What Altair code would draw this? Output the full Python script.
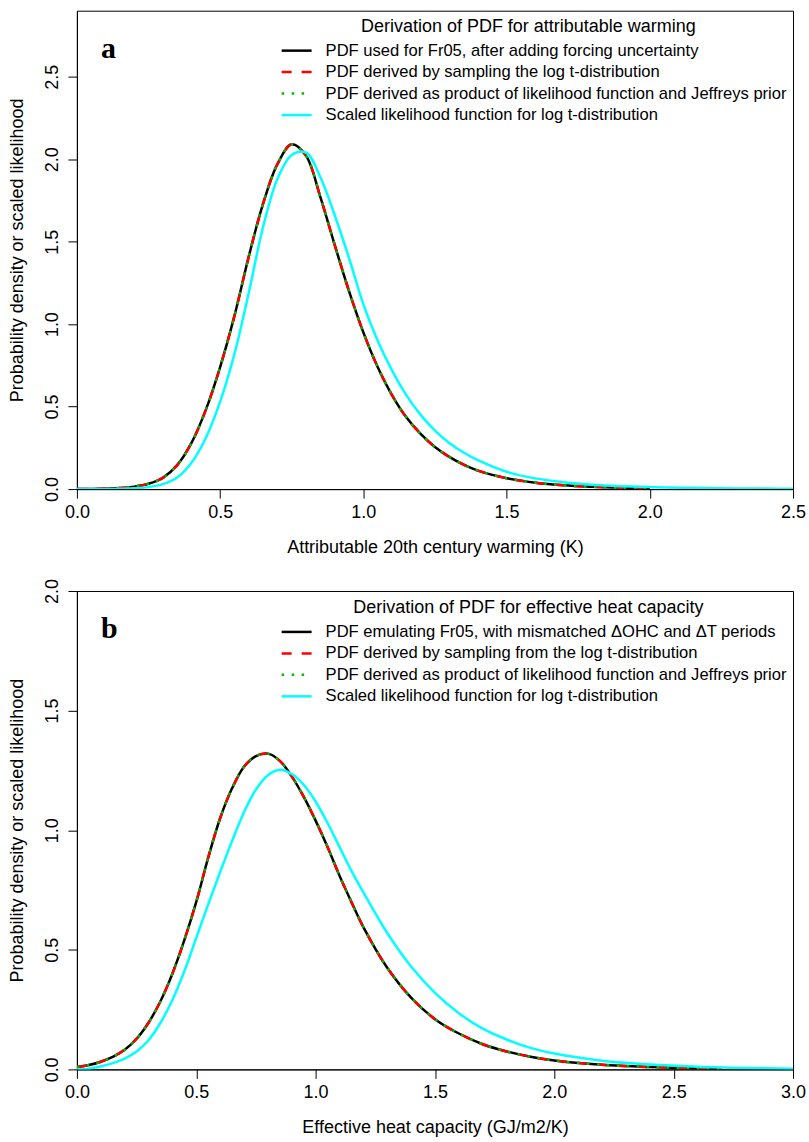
import altair as alt
import pandas as pd

# ---------------- Panel a : attributable warming ----------------
xa = [0.0, 0.05, 0.1, 0.15, 0.2, 0.25, 0.3, 0.35, 0.4, 0.45, 0.5, 0.55, 0.6, 0.65, 0.7,
      0.75, 0.8, 0.85, 0.9, 0.95, 1.0, 1.05, 1.1, 1.15, 1.2, 1.25, 1.3, 1.35, 1.4, 1.5,
      1.6, 1.7, 1.8, 1.9, 2.0]
black_a = [0.0, 0.001, 0.003, 0.007, 0.015, 0.032, 0.068, 0.145, 0.28, 0.48,
           0.74, 1.05, 1.41, 1.73, 1.97, 2.09, 2.02, 1.77, 1.48, 1.20,
           0.95, 0.74, 0.57, 0.435, 0.335, 0.255, 0.195, 0.148, 0.112, 0.066,
           0.039, 0.023, 0.014, 0.008, 0.005]
red_a = list(black_a)
green_a = list(black_a)
xa_c = xa + [2.1, 2.2, 2.3, 2.4, 2.5]
cyan_a = [0.0, 0.0, 0.0005, 0.002, 0.005, 0.012, 0.03, 0.07, 0.16, 0.31,
          0.53, 0.82, 1.19, 1.59, 1.88, 2.025, 2.04, 1.89, 1.66, 1.40,
          1.12, 0.90, 0.72, 0.57, 0.45, 0.355, 0.28, 0.222, 0.175, 0.105,
          0.065, 0.042, 0.027, 0.018, 0.012, 0.008, 0.006, 0.004, 0.003, 0.002]

# ---------------- Panel b : effective heat capacity ----------------
xb = [0.0, 0.05, 0.1, 0.15, 0.2, 0.25, 0.3, 0.35, 0.4, 0.45, 0.5, 0.55, 0.6, 0.65, 0.7,
      0.75, 0.8, 0.85, 0.9, 0.95, 1.0, 1.05, 1.1, 1.15, 1.2, 1.3, 1.4, 1.5, 1.6, 1.7,
      1.8, 1.9, 2.0, 2.2, 2.4, 2.6, 2.7]
black_b = [0.01, 0.018, 0.032, 0.052, 0.082, 0.128, 0.195, 0.285, 0.40, 0.54,
           0.70, 0.885, 1.05, 1.175, 1.265, 1.31, 1.32, 1.29, 1.225, 1.14,
           1.04, 0.93, 0.81, 0.70, 0.595, 0.425, 0.30, 0.21, 0.15, 0.105,
           0.075, 0.053, 0.037, 0.019, 0.01, 0.005, 0.004]
red_b = list(black_b)
green_b = list(black_b)
xb_c = [0.0, 0.05, 0.1, 0.15, 0.2, 0.25, 0.3, 0.35, 0.4, 0.45, 0.5, 0.55, 0.6, 0.65, 0.7,
        0.75, 0.8, 0.85, 0.9, 0.95, 1.0, 1.05, 1.1, 1.15, 1.2, 1.3, 1.4, 1.5, 1.6, 1.7,
        1.8, 1.9, 2.0, 2.2, 2.4, 2.6, 2.8, 3.0]
cyan_b = [0.0, 0.003, 0.012, 0.026, 0.045, 0.075, 0.122, 0.195, 0.29, 0.41,
          0.55, 0.69, 0.825, 0.955, 1.075, 1.17, 1.23, 1.253, 1.235, 1.19,
          1.12, 1.03, 0.93, 0.83, 0.74, 0.57, 0.43, 0.32, 0.235, 0.17,
          0.125, 0.09, 0.066, 0.036, 0.02, 0.011, 0.006, 0.003]

legend_a_title = "Derivation of PDF for attributable warming"
legend_a = ["PDF used for Fr05, after adding forcing uncertainty",
            "PDF derived by sampling the log t-distribution",
            "PDF derived as product of likelihood function and Jeffreys prior",
            "Scaled likelihood function for log t-distribution"]
legend_b_title = "Derivation of PDF for effective heat capacity"
legend_b = ["PDF emulating Fr05, with mismatched \u0394OHC and \u0394T periods",
            "PDF derived by sampling from the log t-distribution",
            "PDF derived as product of likelihood function and Jeffreys prior",
            "Scaled likelihood function for log t-distribution"]

COLORS = ["#000000", "#FF0000", "#00BB00", "#00FFFF"]
DASHES = [None, [10, 10], [2.5, 7.5], None]
FONT = "Liberation Sans"
W, H = 717, 479
LW = 2.5


def panel(series, xdom, ydom, xticks, yticks, xtitle, ltitle, labels, tag, ly_title):
    layers = []
    xax = alt.Axis(values=xticks, format=".1f", title=xtitle, grid=False, tickSize=9,
                   labelFontSize=18, labelFont=FONT, labelColor="black", labelPadding=5,
                   labelFlush=False, labelOverlap=False,
                   titleFontSize=18, titleFont=FONT, titleFontWeight="normal",
                   titleColor="black", titleY=63, titleBaseline="alphabetic")
    yax = alt.Axis(values=yticks, format=".1f", title="Probability density or scaled likelihood",
                   grid=False, tickSize=9, labelAngle=270, labelAlign="center",
                   labelBaseline="alphabetic", labelPadding=10, labelFontSize=18,
                   labelFont=FONT, labelColor="black", labelFlush=False, labelOverlap=False,
                   titleFontSize=18, titleFont=FONT, titleFontWeight="normal",
                   titleColor="black", titleAngle=270, titleX=-59, titleY=H / 2,
                   titleBaseline="middle", titleAlign="center")
    for i, (xs, ys) in enumerate(series):
        df = pd.DataFrame({"x": xs, "y": ys})
        kw = dict(color=COLORS[i], strokeWidth=LW, clip=True, strokeCap="butt",
                  interpolate="catmull-rom")
        if DASHES[i]:
            kw["strokeDash"] = DASHES[i]
        layers.append(
            alt.Chart(df).mark_line(**kw).encode(
                x=alt.X("x:Q", scale=alt.Scale(domain=xdom, nice=False, zero=False), axis=xax),
                y=alt.Y("y:Q", scale=alt.Scale(domain=ydom, nice=False), axis=yax),
            )
        )
    # legend (drawn inside the plot, top right)
    lx0, ly0, dy = 205, ly_title + 24, 21.5
    layers.append(
        alt.Chart(pd.DataFrame({"t": [ltitle]})).mark_text(
            font=FONT, fontSize=18, align="center", baseline="middle", color="black"
        ).encode(text="t:N", x=alt.value(452), y=alt.value(ly_title))
    )
    for i, lab in enumerate(labels):
        kw = dict(color=COLORS[i], strokeWidth=LW, strokeCap="butt")
        if DASHES[i]:
            kw["strokeDash"] = DASHES[i]
        layers.append(
            alt.Chart(pd.DataFrame({"t": [lab]})).mark_rule(**kw).encode(
                x=alt.value(lx0), x2=alt.value(lx0 + 30), y=alt.value(ly0 + i * dy)
            )
        )
        layers.append(
            alt.Chart(pd.DataFrame({"t": [lab]})).mark_text(
                font=FONT, fontSize=16.6, align="left", baseline="middle", color="black"
            ).encode(text="t:N", x=alt.value(lx0 + 44), y=alt.value(ly0 + i * dy))
        )
    layers.append(
        alt.Chart(pd.DataFrame({"t": [tag]})).mark_text(
            font="Liberation Serif", fontWeight="bold", fontSize=30, align="left",
            baseline="alphabetic", color="black"
        ).encode(text="t:N", x=alt.value(24), y=alt.value(47))
    )
    return alt.layer(*layers).properties(width=W, height=H)


pa = panel([(xa, black_a), (xa, red_a), (xa, green_a), (xa_c, cyan_a)],
           [0, 2.5], [0, 2.9], [0, 0.5, 1.0, 1.5, 2.0, 2.5], [0, 0.5, 1.0, 1.5, 2.0, 2.5],
           "Attributable 20th century warming (K)", legend_a_title, legend_a, "a", 16)
pb = panel([(xb, black_b), (xb, red_b), (xb, green_b), (xb_c, cyan_b)],
           [0, 3.0], [0, 2.0], [0, 0.5, 1.0, 1.5, 2.0, 2.5, 3.0], [0, 0.5, 1.0, 1.5, 2.0],
           "Effective heat capacity (GJ/m2/K)", legend_b_title, legend_b, "b", 17)

chart = alt.vconcat(pa, pb, spacing=20).properties(
    padding={"left": 8, "top": 9, "right": 2, "bottom": 0},
    background="white",
).configure_view(stroke="black", strokeWidth=1).configure_axis(
    domainColor="black", tickColor="black", domainWidth=1, tickWidth=1
)

chart.save("out.html", embed_options={"renderer": "svg", "actions": False})
